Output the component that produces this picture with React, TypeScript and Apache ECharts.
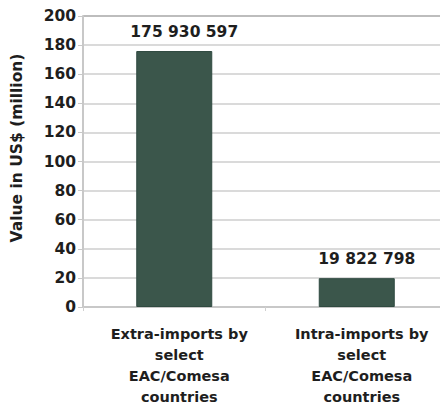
import React, { useEffect, useRef } from "react";
import * as echarts from "echarts";

const categories = [
  "Extra-imports by\nselect\nEAC/Comesa\ncountries",
  "Intra-imports by\nselect\nEAC/Comesa\ncountries",
];
const values = [175.930597, 19.822798];
const valueLabels = ["175 930 597", "19 822 798"];
const yTicks = [0, 20, 40, 60, 80, 100, 120, 140, 160, 180, 200];
const yAxisTitle = "Value in US$ (million)";

export default function App() {
  const ref = useRef<HTMLDivElement>(null);
  useEffect(() => {
    const chart = echarts.init(ref.current!, null, { renderer: "svg" });
    const font = "DejaVu Sans, sans-serif";
    const gridColors = yTicks.map((_, i) => (i === yTicks.length - 1 ? "#bdbdbd" : "#dadada"));
    chart.setOption({
      animation: false,
      backgroundColor: "#ffffff",
      grid: { left: 75, right: -5, top: 8, bottom: 94 },
      graphic: [
        {
          type: "text",
          x: 9,
          y: 140,
          rotation: Math.PI / 2,
          style: {
            text: yAxisTitle,
            fill: "#1e1e1e",
            font: `bold 15.5px ${font}`,
            textAlign: "center",
            textVerticalAlign: "middle",
          },
        },
      ],
      xAxis: {
        type: "category",
        data: categories,
        axisLine: { show: true, lineStyle: { color: "#c8c8c8", width: 2 } },
        axisTick: { show: true, length: 4, lineStyle: { color: "#d0d0d0" } },
        axisLabel: {
          interval: 0,
          hideOverlap: false,
          color: "#1e1e1e",
          fontFamily: font,
          fontWeight: "bold",
          fontSize: 14.5,
          lineHeight: 21,
          margin: 16,
          padding: [0, 0, 0, 10],
        },
      },
      yAxis: {
        type: "value",
        min: yTicks[0],
        max: yTicks[yTicks.length - 1],
        interval: 20,
        axisLine: { show: true, lineStyle: { color: "#c8c8c8", width: 2 } },
        axisTick: { show: true, length: 5, lineStyle: { color: "#c8c8c8" } },
        axisLabel: {
          color: "#1e1e1e",
          fontFamily: font,
          fontWeight: "bold",
          fontSize: 15.5,
          margin: 7,
        },
        splitLine: { show: true, lineStyle: { color: gridColors, width: 2 } },
      },
      series: [
        {
          type: "bar",
          data: values,
          barWidth: 76,
          itemStyle: { color: "#3b564b", borderColor: "#2f4a40", borderWidth: 1 },
          label: {
            show: true,
            position: "top",
            distance: 11,
            offset: [10, 0],
            color: "#1e1e1e",
            fontFamily: font,
            fontWeight: "bold",
            fontSize: 15.5,
            formatter: (p: any) => valueLabels[p.dataIndex],
          },
        },
      ],
    });
    return () => chart.dispose();
  }, []);
  return <div ref={ref} style={{ width: 440, height: 399 }} />;
}
